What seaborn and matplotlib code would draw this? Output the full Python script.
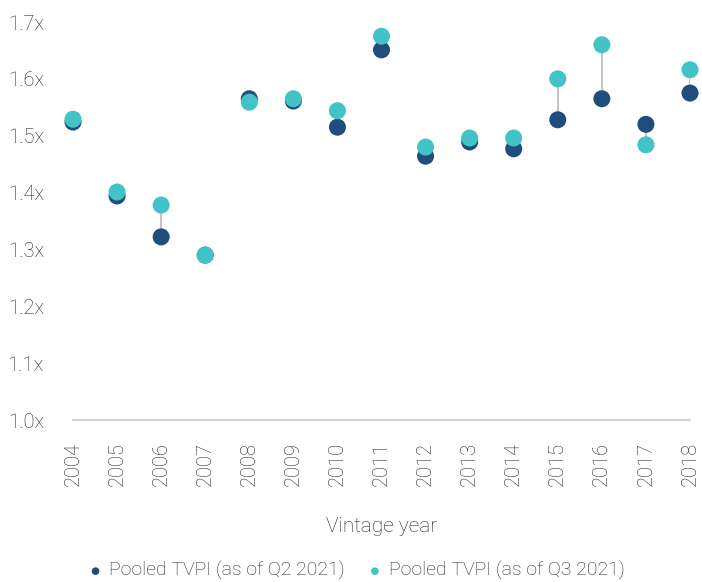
import matplotlib
matplotlib.use("Agg")
import matplotlib.pyplot as plt
import matplotlib.font_manager as fm
import seaborn as sns
import pandas as pd

years = ["2004", "2005", "2006", "2007", "2008", "2009", "2010", "2011",
         "2012", "2013", "2014", "2015", "2016", "2017", "2018"]
tvpi_q2 = [1.524, 1.394, 1.322, 1.290, 1.565, 1.561, 1.515, 1.651,
           1.464, 1.489, 1.477, 1.528, 1.565, 1.520, 1.575]
tvpi_q3 = [1.529, 1.401, 1.378, 1.290, 1.559, 1.565, 1.544, 1.675,
           1.480, 1.496, 1.496, 1.600, 1.660, 1.484, 1.616]
label_q2 = "Pooled TVPI (as of Q2 2021)"
label_q3 = "Pooled TVPI (as of Q3 2021)"
y_ticks = [1.0, 1.1, 1.2, 1.3, 1.4, 1.5, 1.6, 1.7]

navy = "#1f4e7d"
teal = "#41c3c7"
text_color = "#262626"

sns.set_theme(style="white")
available = {f.name for f in fm.fontManager.ttflist}
family = [f for f in ["Liberation Sans Narrow", "DejaVu Sans Condensed", "Roboto", "DejaVu Sans"]
          if f in available] or ["DejaVu Sans"]
plt.rcParams["font.family"] = family + ["DejaVu Sans"]
plt.rcParams["font.weight"] = "light"
plt.rcParams["axes.labelweight"] = "light"

df = pd.DataFrame({"year": years, "q2": tvpi_q2, "q3": tvpi_q3})
df["pos"] = range(len(df))

W, H = 702, 582
fig = plt.figure(figsize=(W / 100, H / 100), dpi=100)
ax = fig.add_axes([73 / W, 1 - 420 / H, (690 - 73) / W, (420 - 22) / H])

# connectors between the two quarters
ax.vlines(df["pos"], df["q2"], df["q3"], color="#c9c5bd", lw=1.5, zorder=1)

sns.scatterplot(data=df, x="pos", y="q2", color=navy, s=150, edgecolor="none",
                ax=ax, zorder=2, clip_on=False, label=label_q2)
sns.scatterplot(data=df, x="pos", y="q3", color=teal, s=150, edgecolor="none",
                ax=ax, zorder=3, clip_on=False, label=label_q3)

ax.set_xlim(0, len(years) - 1)
ax.set_ylim(1.0, 1.7)
ax.set_yticks(y_ticks)
ax.set_yticklabels([f"{v:.1f}x" for v in y_ticks], fontsize=14.5, color=text_color)
ax.set_xticks(df["pos"])
ax.set_xticklabels(years, rotation=90, fontsize=14.5, color=text_color)
ax.tick_params(axis="y", length=0, pad=21)
ax.tick_params(axis="x", length=0, pad=16)

for side in ["top", "right", "left"]:
    ax.spines[side].set_visible(False)
ax.spines["bottom"].set_color("#c9c5bd")
ax.spines["bottom"].set_linewidth(1.2)

ax.set_ylabel("")
ax.set_xlabel("Vintage year", fontsize=15, fontweight="light", color=text_color, va="center")
ax.xaxis.set_label_coords(0.5, (420 - 527) / (420 - 22))

leg = ax.legend(loc="center", bbox_to_anchor=(357 / W, 1 - 571 / H),
                bbox_transform=fig.transFigure, ncol=2, frameon=False,
                prop={"size": 14, "weight": "light"}, handlelength=0.6,
                handletextpad=0.4, columnspacing=1.25, markerscale=0.45)
for t in leg.get_texts():
    t.set_color(text_color)

fig.savefig("out.png", dpi=100)
